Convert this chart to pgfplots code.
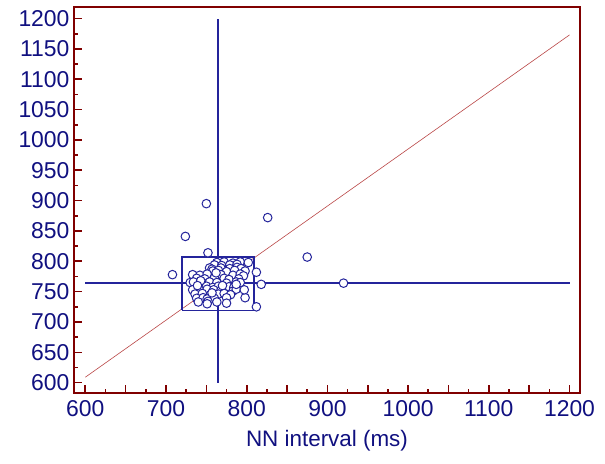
\documentclass[border=0pt]{standalone}
\usepackage{fontspec}
\setmainfont{Liberation Sans}
\usepackage{pgfplots}
\pgfplotsset{compat=1.18}
\definecolor{framered}{RGB}{128,0,0}
\definecolor{navytxt}{RGB}{16,16,128}
\definecolor{bl}{RGB}{36,36,155}
\definecolor{reg}{RGB}{185,70,70}
\begin{document}
\begin{tikzpicture}
\useasboundingbox (-74bp,-71bp) rectangle (531bp,393bp);
\begin{axis}[
 at={(0,0)}, anchor=south west,
 width=506bp, height=386bp, scale only axis,
 xmin=586, xmax=1213, ymin=583, ymax=1219,
 axis line style={draw=framered, line width=2.2bp},
 xtick={600,650,...,1200},
 xticklabels={600,,700,,800,,900,,1000,,1100,,1200},
 ytick={600,650,...,1200},
 minor x tick num=1, minor y tick num=1,
 xtick pos=left, ytick pos=left,
 tick align=inside,
 major tick length=8bp, minor tick length=4bp,
 tick style={draw=framered, line width=1.6bp},
 ticklabel style={text=navytxt, font=\fontsize{23}{27}\selectfont},
 xticklabel style={yshift=-4bp},
 yticklabel style={xshift=-1bp},
 /pgf/number format/assume math mode=true,
 /pgf/number format/set thousands separator={},
 xlabel={NN interval (ms)},
 xlabel style={text=navytxt, font=\fontsize{22.5}{27}\selectfont, yshift=-7bp},
]
\addplot[reg, line width=0.6bp] coordinates {(600,609) (1200,1173)};
\addplot[bl, line width=1.8bp] coordinates {(764.6,600) (764.6,1200)};
\addplot[bl, line width=1.6bp] coordinates {(600,764) (1200,764)};
\addplot[bl, line width=1.6bp, line join=miter] coordinates {(720,719) (809,719) (809,807) (720,807) (720,719)};
\addplot[only marks, mark=*, mark size=4.3bp, mark options={draw=bl, fill=white, line width=1bp}] table {
x y
750 895
826 872
724 841
752 814
875 807
708 778
920 764
812 782
818 762
798 740
812 725
763 798
772 799
783 797
792 799
802 798
760 794
769 793
779 794
788 795
754 789
757 787
768 789
779 788
788 790
793 788
758 784
765 785
775 783
785 785
798 784
733 778
742 777
751 779
768 778
783 777
792 779
796 776
738 772
748 771
760 773
772 772
778 770
790 771
730 765
734 766
746 764
754 766
763 765
775 764
787 766
792 765
740 758
750 759
758 757
765 759
778 758
784 757
733 753
742 752
751 754
759 753
768 752
783 751
787 754
797 753
736 746
745 747
755 745
765 746
772 747
780 745
738 739
746 740
751 738
760 739
775 740
740 733
752 734
763 733
751 730
775 731
743 768
770 760
757 748
787 762
762 781
739 760
}; 
\end{axis}
\end{tikzpicture}
\end{document}
